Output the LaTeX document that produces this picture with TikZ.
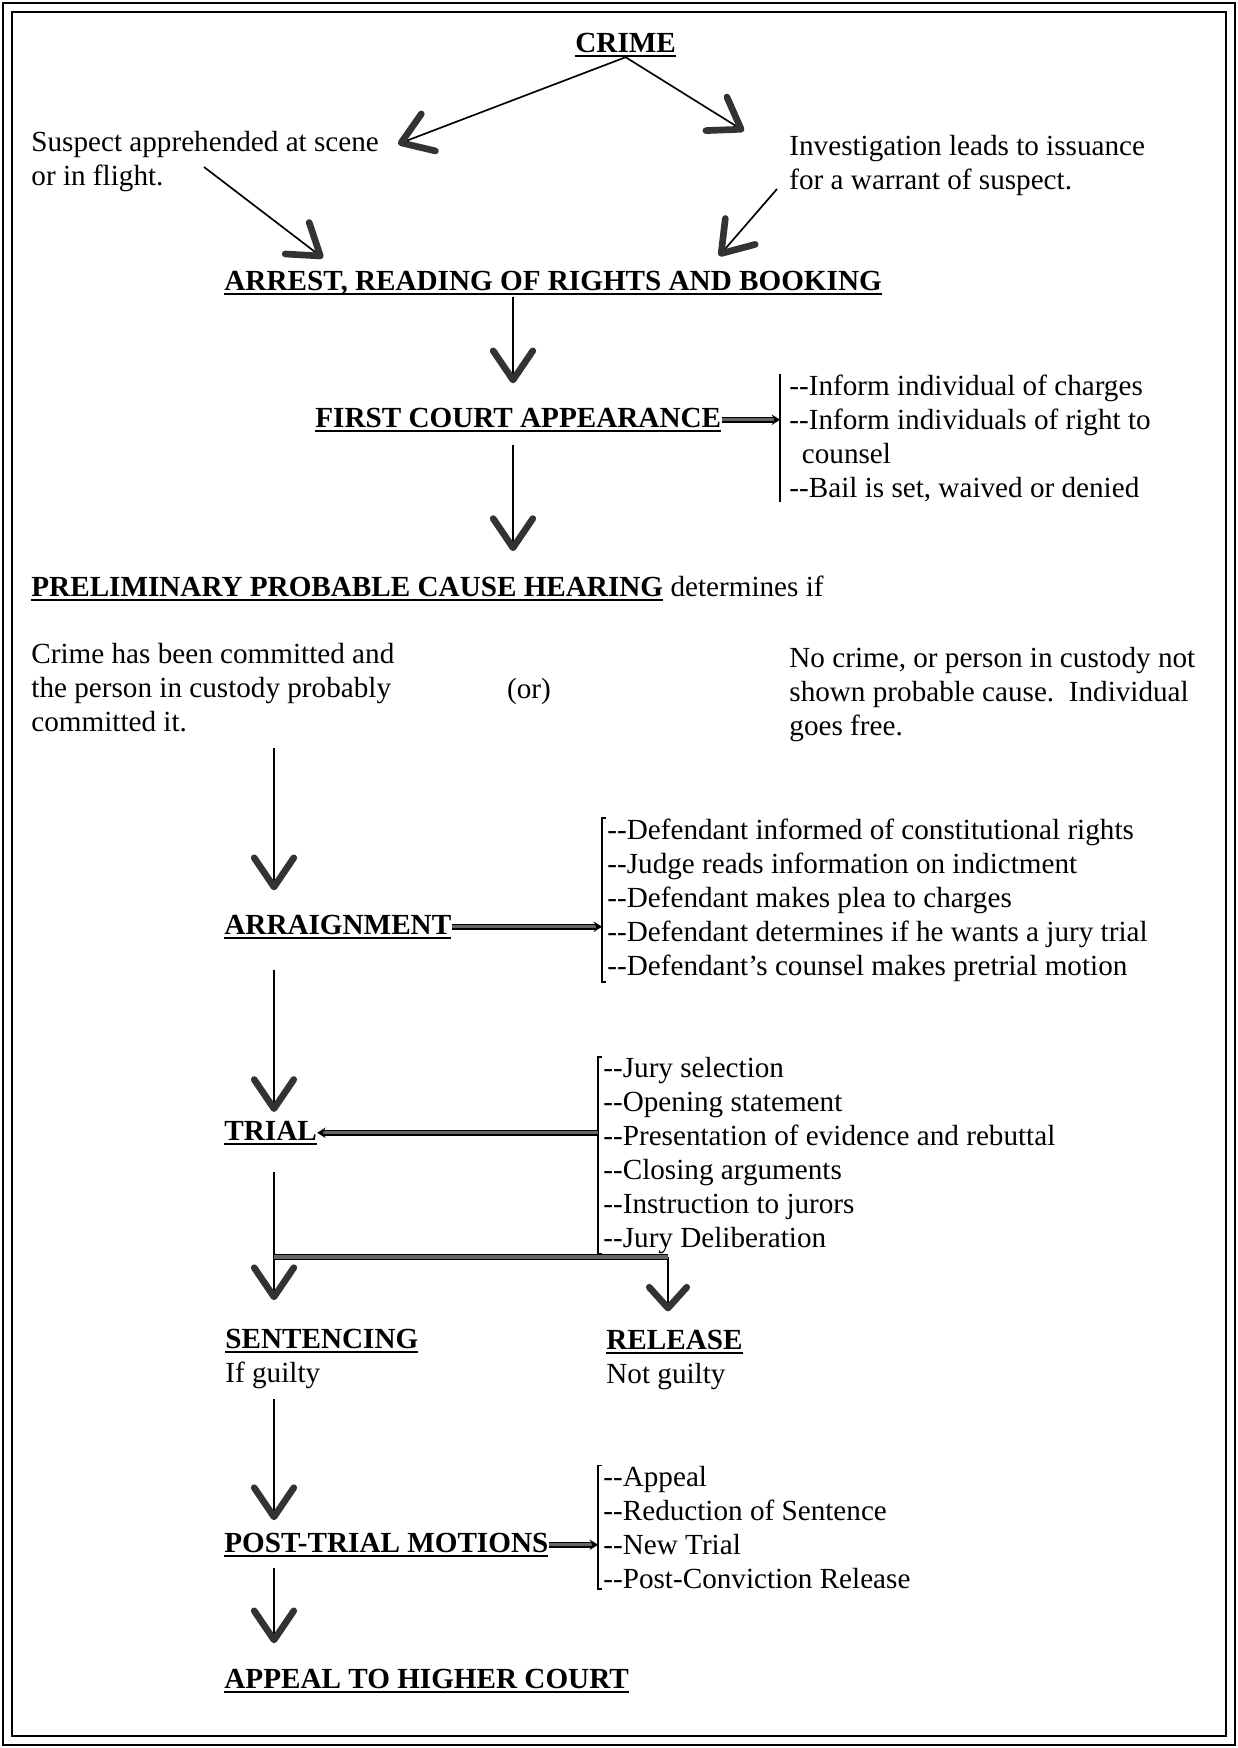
\documentclass[tikz,border=0pt]{standalone}
\usepackage{fontspec}
\setmainfont{Liberation Serif}
\usetikzlibrary{arrows.meta}
\newsavebox{\stagebox}
\newcommand{\stage}[1]{\textbf{\sbox{\stagebox}{#1}\usebox{\stagebox}\llap{\vrule width\wd\stagebox height -1.4pt depth 2.3pt}}}
\tikzset{
  txt/.style={anchor=base west, inner sep=0pt, align=left},
  link/.style={line width=0.8pt, -{Straight Barb[length=14pt,width=19pt,line width=3.2pt,round,color=black!80]}},
  sublink/.style={line width=0.8pt, -{Straight Barb[length=10pt,width=18pt,line width=3.2pt,round,color=black!80]}},
  bar/.style={line width=0.7pt, double=black!60, double distance=1.6pt},
  brk/.style={line width=0.9pt},
}
\begin{document}
\begin{tikzpicture}[x=0.48pt, y=-0.48pt, font=\fontsize{14}{16.3}\selectfont]
\useasboundingbox (0,0) rectangle (1238,1748);
\draw[line width=1.4pt] (3,3) rectangle (1235,1745);      % outer frame
\draw[line width=0.7pt] (12,12) rectangle (1226,1736);    % inner frame

% stages (multi-line nodes sit on their last baseline)
\node[txt] (crime) at (575,52) {\stage{CRIME}};
\node[txt] (sus) at (31,185) {Suspect apprehended at scene\\or in flight.};
\node[txt] (inv) at (789,189) {Investigation leads to issuance\\for a warrant of suspect.};
\node[txt] (arrest) at (224,290) {\stage{ARREST, READING OF RIGHTS AND BOOKING}};
\node[txt] (fca) at (315,427) {\stage{FIRST COURT APPEARANCE}};
\node[txt] (ppc) at (31,596) {\stage{PRELIMINARY PROBABLE CAUSE HEARING} determines if};
\node[txt] (yes) at (31,731) {Crime has been committed and\\the person in custody probably\\committed it.};
\node[anchor=base, inner sep=0pt] (or) at (529,698) {(or)};
\node[txt] (no) at (789,735) {No crime, or person in custody not\\shown probable cause.\ \ Individual\\goes free.};
\node[txt] (arr) at (224,934) {\stage{ARRAIGNMENT}};
\node[txt] (trial) at (224,1140) {\stage{TRIAL}};
\node[txt] (sen) at (225,1382) {\stage{SENTENCING}\\If guilty};
\node[txt] (rel) at (606,1383) {\stage{RELEASE}\\Not guilty};
\node[txt] (ptm) at (224,1552) {\stage{POST-TRIAL MOTIONS}};
\node[txt] (app) at (224,1688) {\stage{APPEAL TO HIGHER COURT}};

% lists
\node[txt] (fcalist) at (789,497) {-{}-Inform individual of charges\\-{}-Inform individuals of right to\\\hspace*{6pt}counsel\\-{}-Bail is set, waived or denied};
\node[txt] (arrlist) at (607,975) {-{}-Defendant informed of constitutional rights\\-{}-Judge reads information on indictment\\-{}-Defendant makes plea to charges\\-{}-Defendant determines if he wants a jury trial\\-{}-Defendant's counsel makes pretrial motion};
\node[txt] (triallist) at (603,1247) {-{}-Jury selection\\-{}-Opening statement\\-{}-Presentation of evidence and rebuttal\\-{}-Closing arguments\\-{}-Instruction to jurors\\-{}-Jury Deliberation};
\node[txt] (ptmlist) at (603,1588) {-{}-Appeal\\-{}-Reduction of Sentence\\-{}-New Trial\\-{}-Post-Conviction Release};

% points
\coordinate (up) at (513,0);
\coordinate (low) at (274,0);
\coordinate (tipL) at (398,144);
\coordinate (tipR) at (744,131);
\coordinate (susend) at (204,167);
\coordinate (invend) at (777,189);
\coordinate (tipA) at (323,258);
\coordinate (tipB) at (719,256);
\coordinate (fork) at (274,1257);
\coordinate (drop) at (668,1257);
\coordinate (brF) at ([xshift=-4.3pt]fcalist.west);
\coordinate (brA) at ([xshift=-2.4pt]arrlist.west);
\coordinate (brT) at ([xshift=-2.4pt]triallist.west);
\coordinate (brP) at ([xshift=-2.4pt]ptmlist.west);

% arrows
\draw[link] (crime.south) -- (tipL);
\draw[link] (crime.south) -- (tipR);
\draw[link] (susend) -- (tipA);
\draw[link] (invend) -- (tipB);
\draw[link, shorten <=1pt, shorten >=11.5pt] (arrest.south -| up) -- (fca.north -| up);
\draw[link, shorten <=6pt, shorten >=11.5pt] (fca.south -| up) -- (ppc.north -| up);
\draw[link, shorten <=7.7pt, shorten >=11.5pt] (yes.south -| low) -- (arr.north -| low);
\draw[link, shorten <=15pt, shorten >=4pt] (arr.south -| low) -- (trial.north -| low);
\draw[link, shorten <=13pt, shorten >=13.5pt] (trial.south -| low) -- (sen.north -| low);
\draw[sublink, shorten >=8.6pt] (drop) -- (rel.north -| drop);
\draw[link, shorten <=5pt, shorten >=5.8pt] (sen.south -| low) -- (ptm.north -| low);
\draw[link, shorten <=5.3pt, shorten >=12pt] (ptm.south -| low) -- (app.north -| low);

% brackets
\draw[brk] (brF |- fcalist.north) -- (brF |- fcalist.south);
\draw[brk] ([xshift=2pt]brA |- arrlist.north) -- (brA |- arrlist.north) -- (brA |- arrlist.south) -- ([xshift=2pt]brA |- arrlist.south);
\draw[brk] ([xshift=2pt]brT |- triallist.north) -- (brT |- triallist.north) -- (brT |- triallist.south) -- ([xshift=2pt]brT |- triallist.south);
\draw[brk] ([xshift=2pt]brP |- ptmlist.north) -- (brP |- ptmlist.north) -- (brP |- ptmlist.south) -- ([xshift=2pt]brP |- ptmlist.south);

% bars
\draw[bar, -{Stealth[length=4pt,width=5pt]}] (fca.east) -- (fca.east -| brF);
\draw[bar, -{Stealth[length=4pt,width=5pt]}] (arr.east) -- (arr.east -| brA);
\draw[bar, -{Stealth[length=4pt,width=5pt]}] (trial.east -| brT) -- (trial.east);
\draw[bar, -{Stealth[length=4pt,width=5pt]}] (ptm.east) -- (ptm.east -| brP);
\draw[bar] (fork) -- (drop);
\end{tikzpicture}
\end{document}
